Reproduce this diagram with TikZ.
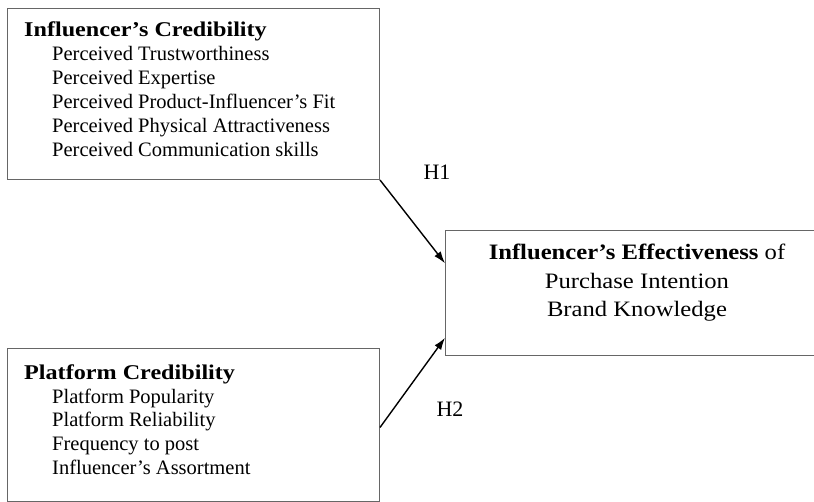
\documentclass[tikz,border=0pt]{standalone}
\usepackage{fontspec}
\setmainfont{Liberation Serif}
\newfontfamily\headfont{Liberation Serif}[FakeStretch=1.15]
\newfontfamily\efffont{Liberation Serif}[FakeStretch=1.12]
\usetikzlibrary{arrows.meta,calc}
\tikzset{
  framebox/.style={draw=black!60, line width=1pt, anchor=north west, inner sep=0pt},
  itemtext/.style={anchor=base west, inner sep=0pt, font=\fontsize{20.5}{24}\selectfont},
  headtext/.style={itemtext, font=\fontsize{21}{25}\headfont\bfseries},
  midtext/.style={anchor=base, inner sep=0pt, font=\fontsize{22}{26}\efffont},
  hyptext/.style={anchor=base, inner sep=0pt, font=\fontsize{22}{26}\selectfont},
  hyparrow/.style={draw, line width=1.4pt, -{Latex[length=12pt,width=8pt]}}
}
\begin{document}
\begin{tikzpicture}[x=1pt,y=-1pt]
                    \useasboundingbox (0,0) rectangle (814,502);
                    \node[framebox, minimum width=372pt, minimum height=171pt] (cred) at (7,8) {};
                    \node[framebox, minimum width=372pt, minimum height=153pt] (plat) at (7,348) {};
                    \node[framebox, minimum width=373pt, minimum height=125pt] (eff) at (445,230) {};

                    \node[headtext] (credhead) at (24,37) {Influencer’s Credibility};
                    \foreach \t [count=\i] in {Perceived Trustworthiness, Perceived Expertise,
                        Perceived Product-Influencer’s Fit, Perceived Physical Attractiveness,
                        Perceived Communication skills}
                        \node[itemtext] (cred-\i) at (52,{37+24*\i}) {\t};

                    \node[headtext] (plathead) at (24,380) {Platform Credibility};
                    \foreach \t [count=\i] in {Platform Popularity, Platform Reliability,
                        Frequency to post, Influencer’s Assortment}
                        \node[itemtext] (plat-\i) at (52,{380+23.5*\i}) {\t};

                    \node[midtext] (eff-1) at (637,260) {\textbf{Influencer’s Effectiveness} of};
                    \node[midtext] (eff-2) at (637,289) {Purchase Intention};
                    \node[midtext] (eff-3) at (637,317) {Brand Knowledge};

                    \coordinate (h1end) at ($(eff.north west)!0.264!(eff.south west)$);
                    \coordinate (h2end) at ($(eff.north west)!0.856!(eff.south west)$);
                    \coordinate (h2start) at ($(plat.north east)!0.516!(plat.south east)$);
                    \draw[hyparrow] (cred.south east) -- (h1end);
                    \draw[hyparrow] (h2start) -- (h2end);

                    \node[hyptext] (h1) at (437,180) {H1};
                    \node[hyptext] (h2) at (450,417) {H2};
                \end{tikzpicture}
\end{document}
